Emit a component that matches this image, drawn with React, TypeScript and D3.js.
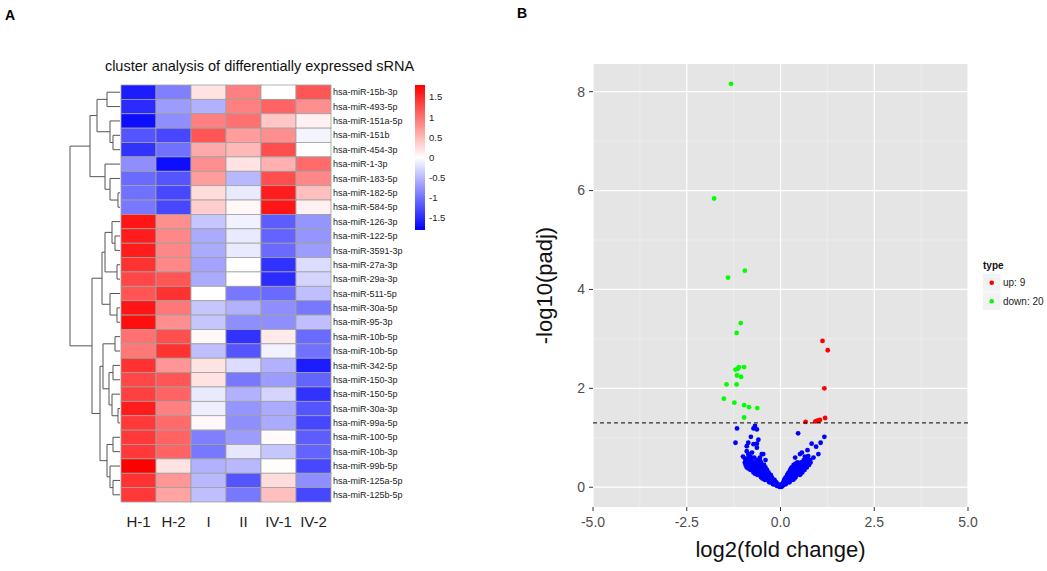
import React from "react";
import * as d3 from "d3";

// ---------- Heatmap data ----------
const columns = ["H-1", "H-2", "I", "II", "IV-1", "IV-2"];
const rowLabels = [
  "hsa-miR-15b-3p", "hsa-miR-493-5p", "hsa-miR-151a-5p", "hsa-miR-151b", "hsa-miR-454-3p",
  "hsa-miR-1-3p", "hsa-miR-183-5p", "hsa-miR-182-5p", "hsa-miR-584-5p", "hsa-miR-126-3p",
  "hsa-miR-122-5p", "hsa-miR-3591-3p", "hsa-miR-27a-3p", "hsa-miR-29a-3p", "hsa-miR-511-5p",
  "hsa-miR-30a-5p", "hsa-miR-95-3p", "hsa-miR-10b-5p", "hsa-miR-10b-5p", "hsa-miR-342-5p",
  "hsa-miR-150-3p", "hsa-miR-150-5p", "hsa-miR-30a-3p", "hsa-miR-99a-5p", "hsa-miR-100-5p",
  "hsa-miR-10b-3p", "hsa-miR-99b-5p", "hsa-miR-125a-5p", "hsa-miR-125b-5p",
];
const heatValues = [
  [-1.6, -0.9, 0.2, 0.9, 0.0, 1.2],
  [-1.5, -0.7, -0.55, 0.9, 1.1, 0.8],
  [-1.7, -0.8, 0.9, 1.0, 0.4, 0.1],
  [-1.2, -1.3, 1.2, 0.7, 0.8, -0.08],
  [-1.45, -1.0, 0.6, 0.5, 1.25, 0.0],
  [-0.8, -1.7, 0.8, 0.2, 0.55, 1.05],
  [-1.05, -1.2, 0.7, -0.5, 1.25, 0.85],
  [-1.0, -1.3, 0.25, -0.15, 1.6, 0.45],
  [-0.95, -1.3, 0.35, 0.05, 1.65, 0.1],
  [1.65, 0.8, -0.4, -0.1, -1.15, -0.75],
  [1.6, 0.85, -0.6, -0.15, -1.1, -0.75],
  [1.6, 0.85, -0.6, -0.15, -1.05, -0.7],
  [1.45, 0.85, -0.65, 0.0, -1.45, -0.25],
  [1.3, 1.2, -0.6, 0.0, -1.5, -0.3],
  [1.2, 1.45, 0.0, -0.95, -1.05, -0.45],
  [1.65, 0.95, -0.4, -0.55, -0.8, -0.95],
  [1.7, 0.8, -0.4, -0.8, -0.8, -0.45],
  [1.0, 1.25, 0.05, -1.45, 0.15, -1.05],
  [0.95, 1.45, -0.45, -1.2, -0.1, -1.0],
  [1.45, 0.75, 0.2, -0.25, -0.55, -1.6],
  [1.3, 1.2, 0.2, -0.95, -0.7, -1.1],
  [1.35, 1.1, -0.15, -0.55, -0.3, -1.45],
  [1.6, 0.9, -0.12, -0.75, -0.6, -1.2],
  [1.4, 1.05, 0.05, -0.8, -0.6, -1.3],
  [1.4, 1.1, -0.9, -0.7, 0.03, -1.15],
  [1.4, 1.1, -0.95, -0.18, -0.4, -1.1],
  [1.8, 0.2, -0.55, -0.5, 0.02, -1.3],
  [1.45, 0.75, -0.5, -1.2, 0.25, -0.8],
  [1.4, 0.65, -0.45, -0.95, 0.45, -1.3],
];
const colorbarTicks = [-1.5, -1, -0.5, 0, 0.5, 1, 1.5];

// Row dendrogram: [mergeHeight, left, right]; leaves are row indices
type TreeNode = number | [number, TreeNode, TreeNode];
const rowTree: TreeNode = [5.0,
  [3.0,
    [2.3, [1.3, 0, 1], [1.0, 2, [0.7, 3, 4]]],
    [1.5, 5, [1.0, 6, [0.2, 7, 8]]]],
  [2.8,
    [1.8,
      [1.5, [0.8, 9, [0.5, 10, 11]], [0.3, 12, 13]],
      [1.0, 14, [0.3, 15, 16]]],
    [2.0,
      [1.7, [0.5, 17, 18], [1.1, [0.7, 19, 20], [0.8, 21, [0.2, 22, 23]]]],
      [1.3, [0.7, 24, 25], [1.0, 26, [0.7, 27, 28]]]]]];

// ---------- Volcano data ----------
const xTicks = [-5, -2.5, 0, 2.5, 5];
const yTicks = [0, 2, 4, 6, 8];
const upPoints = [
  [1.12, 2.96], [1.26, 2.77], [1.17, 2.0], [0.67, 1.32], [0.93, 1.33],
  [0.97, 1.34], [1.01, 1.35], [1.05, 1.36], [1.19, 1.4],
];
const downPoints = [
  [-1.32, 8.16], [-1.77, 5.84], [-1.4, 4.24], [-0.95, 4.38], [-1.06, 3.32],
  [-1.17, 3.12], [-1.2, 2.38], [-1.11, 2.43], [-0.97, 2.43], [-1.16, 2.26],
  [-1.05, 2.23], [-1.44, 2.08], [-1.17, 2.08], [-1.51, 1.79], [-1.23, 1.71],
  [-0.97, 1.66], [-0.84, 1.62], [-0.62, 1.6], [-0.97, 1.41], [-1.13, 2.4],
];
const blueScatter = [
  [-1.16, 1.19], [-1.2, 0.9], [-0.72, 1.19], [-0.68, 1.24], [-0.63, 1.17], [-0.79, 1.02],
  [-0.86, 0.9], [-0.59, 0.96], [-0.63, 0.88], [-0.72, 0.87], [-0.9, 0.83], [-0.9, 0.73],
  [-0.86, 0.67], [-0.63, 0.8], [-0.5, 0.67], [-0.46, 0.67], [-0.86, 0.6], [-0.95, 0.58],
  [-0.8, 0.62], [-0.7, 0.6], [-0.55, 0.6], [-0.4, 0.55], [-1.0, 0.62], [-0.76, 0.7],
  [0.47, 1.09], [1.17, 1.02], [0.83, 0.88], [0.95, 0.82], [1.07, 0.9], [0.72, 0.75],
  [1.01, 0.67], [0.52, 0.67], [0.57, 0.7], [0.74, 0.63], [0.39, 0.6], [0.79, 0.55],
  [0.88, 0.6], [0.65, 0.62],
];
// dense rows of non-significant points: [y, x values]
const blueRows: [number, number[]][] = [
  [0.55, [-0.92, -0.85, -0.78, -0.62, -0.55, 0.62, 0.7, 0.78]],
  [0.5, [-0.95, -0.88, -0.8, -0.7, -0.6, -0.52, 0.45, 0.55, 0.63, 0.72, 0.8]],
  [0.475, [-0.9, -0.76, -0.64, -0.55, 0.4, 0.5, 0.58, 0.66, 0.74]],
  [0.45, [-0.93, -0.86, -0.75, -0.66, -0.58, -0.5, -0.44, 0.35, 0.44, 0.52, 0.6, 0.68, 0.76]],
  [0.4, [-0.9, -0.82, -0.72, -0.64, -0.56, -0.47, -0.4, 0.3, 0.38, 0.46, 0.54, 0.62, 0.7]],
  [0.375, [-0.85, -0.76, -0.68, -0.6, -0.51, -0.44, 0.28, 0.36, 0.44, 0.52, 0.6]],
  [0.35, [-0.8, -0.7, -0.62, -0.55, -0.48, -0.42, -0.36, 0.26, 0.33, 0.4, 0.48, 0.56, 0.64]],
  [0.3, [-0.72, -0.64, -0.56, -0.5, -0.44, -0.38, -0.32, 0.22, 0.28, 0.35, 0.42, 0.5, 0.58]],
  [0.275, [-0.68, -0.6, -0.52, -0.45, -0.39, -0.33, 0.2, 0.27, 0.33, 0.4, 0.47, 0.54]],
  [0.25, [-0.62, -0.55, -0.48, -0.42, -0.36, -0.3, -0.26, 0.18, 0.24, 0.3, 0.37, 0.44, 0.52]],
  [0.2, [-0.52, -0.45, -0.38, -0.33, -0.28, -0.23, 0.14, 0.2, 0.26, 0.32, 0.4]],
  [0.175, [-0.48, -0.41, -0.35, -0.29, -0.23, 0.12, 0.18, 0.24, 0.31, 0.37]],
  [0.15, [-0.42, -0.36, -0.3, -0.25, -0.2, -0.16, 0.1, 0.16, 0.22, 0.28, 0.34]],
  [0.1, [-0.3, -0.25, -0.2, -0.15, -0.11, 0.07, 0.12, 0.18, 0.24]],
  [0.06, [-0.2, -0.15, -0.1, -0.07, 0.04, 0.09, 0.14]],
  [0.03, [-0.1, -0.06, -0.03, 0.02, 0.06]],
  [0.01, [-0.03, 0.0, 0.03]],
];
const threshold = -Math.log10(0.05);
const legendItems = [
  { label: "up: 9", color: "#ff0000" },
  { label: "down: 20", color: "#00ff00" },
];

const FONT = "'Liberation Sans', Arial, Helvetica, sans-serif";

function Heatmap() {
  const left = 121, right = 331, top = 85, bottom = 502;
  const x = d3.scaleBand<string>().domain(columns).range([left, right]);
  const y = d3.scaleBand<number>().domain(d3.range(rowLabels.length)).range([top, bottom]);
  const color = d3.scaleLinear<string>().domain([-1.8, 0, 1.8]).range(["#0000ff", "#ffffff", "#ff0000"]);
  const dx = d3.scaleLinear().domain([0, 5]).range([120, 70]);
  const segs: { x1: number; y1: number; x2: number; y2: number }[] = [];
  const walk = (n: TreeNode): { y: number; h: number } => {
    if (typeof n === "number") return { y: (y(n) as number) + y.bandwidth() / 2, h: 0 };
    const [h, a, b] = n;
    const ca = walk(a), cb = walk(b);
    const xx = dx(h);
    segs.push({ x1: xx, y1: ca.y, x2: xx, y2: cb.y });
    segs.push({ x1: xx, y1: ca.y, x2: dx(ca.h), y2: ca.y });
    segs.push({ x1: xx, y1: cb.y, x2: dx(cb.h), y2: cb.y });
    return { y: (ca.y + cb.y) / 2, h };
  };
  walk(rowTree);
  const cb = d3.scaleLinear().domain([-1.8, 1.8]).range([230, 85]);
  const stops = d3.range(0, 1.0001, 0.05);
  return (
    <g fontFamily={FONT}>
      <text x={5} y={20} fontSize={14} fontWeight="bold">A</text>
      <text x={259.5} y={71} fontSize={14.5} textAnchor="middle" fill="#111">cluster analysis of differentially expressed sRNA</text>
      {heatValues.map((row, i) =>
        row.map((v, j) => (
          <rect key={`${i}-${j}`} x={x(columns[j])} y={y(i)} width={x.bandwidth()} height={y.bandwidth()}
            fill={color(v)} stroke="#a0a0a0" strokeWidth={0.8} />
        ))
      )}
      {segs.map((s, i) => (
        <line key={i} x1={s.x1} y1={s.y1} x2={s.x2} y2={s.y2} stroke="#555" strokeWidth={1} />
      ))}
      {rowLabels.map((l, i) => (
        <text key={i} x={333} y={(y(i) as number) + y.bandwidth() / 2} dy="0.35em" fontSize={9} fill="#222">{l}</text>
      ))}
      {columns.map((c) => (
        <text key={c} x={(x(c) as number) + x.bandwidth() / 2} y={527} fontSize={15} textAnchor="middle" fill="#222">{c}</text>
      ))}
      <defs>
        <linearGradient id="cbgrad" x1="0" y1="1" x2="0" y2="0">
          {stops.map((t) => (
            <stop key={t} offset={t} stopColor={color(-1.8 + 3.6 * t)} />
          ))}
        </linearGradient>
      </defs>
      <rect x={415} y={85} width={10} height={145} fill="url(#cbgrad)" />
      {colorbarTicks.map((t) => (
        <text key={t} x={429} y={cb(t)} dy="0.35em" fontSize={9.5} fill="#222">{t}</text>
      ))}
    </g>
  );
}

function Volcano() {
  const pl = 593, pr = 968, pt = 64, pb = 507;
  const x = d3.scaleLinear().domain([-5, 5]).range([pl, pr]);
  const y = d3.scaleLinear().domain([-0.4, 8.56]).range([pb, pt]);
  const minorX = [-3.75, -1.25, 1.25, 3.75];
  const minorY = [1, 3, 5, 7];
  const blue: number[][] = [...blueScatter];
  blueRows.forEach(([yy, xs]) => xs.forEach((xx) => blue.push([xx, yy])));
  return (
    <g fontFamily={FONT}>
      <text x={517} y={18} fontSize={14} fontWeight="bold">B</text>
      <rect x={pl} y={pt} width={pr - pl} height={pb - pt} fill="#e5e5e5" />
      {minorX.map((v) => <line key={"mx" + v} x1={x(v)} x2={x(v)} y1={pt} y2={pb} stroke="#f2f2f2" strokeWidth={0.6} />)}
      {minorY.map((v) => <line key={"my" + v} x1={pl} x2={pr} y1={y(v)} y2={y(v)} stroke="#f2f2f2" strokeWidth={0.6} />)}
      {xTicks.map((v) => <line key={"gx" + v} x1={x(v)} x2={x(v)} y1={pt} y2={pb} stroke="#fff" strokeWidth={1.2} />)}
      {yTicks.map((v) => <line key={"gy" + v} x1={pl} x2={pr} y1={y(v)} y2={y(v)} stroke="#fff" strokeWidth={1.2} />)}
      {blue.map((p, i) => <circle key={"b" + i} cx={x(p[0])} cy={y(p[1])} r={2.4} fill="#0000ff" />)}
      {downPoints.map((p, i) => <circle key={"d" + i} cx={x(p[0])} cy={y(p[1])} r={2.4} fill="#00ff00" />)}
      {upPoints.map((p, i) => <circle key={"u" + i} cx={x(p[0])} cy={y(p[1])} r={2.4} fill="#ff0000" />)}
      <line x1={pl} x2={pr} y1={y(threshold)} y2={y(threshold)} stroke="#000" strokeWidth={1} strokeDasharray="4,3" />
      {yTicks.map((v) => (
        <g key={"ty" + v}>
          <line x1={pl - 4} x2={pl} y1={y(v)} y2={y(v)} stroke="#333" strokeWidth={1} />
          <text x={pl - 8} y={y(v)} dy="0.35em" textAnchor="end" fontSize={14} fill="#4d4d4d">{v}</text>
        </g>
      ))}
      {xTicks.map((v) => (
        <g key={"tx" + v}>
          <line x1={x(v)} x2={x(v)} y1={pb} y2={pb + 4} stroke="#333" strokeWidth={1} />
          <text x={x(v)} y={527} textAnchor="middle" fontSize={14} fill="#4d4d4d">{v.toFixed(1)}</text>
        </g>
      ))}
      <text x={x(0)} y={557} textAnchor="middle" fontSize={22} fill="#111">log2(fold change)</text>
      <text transform={`translate(552,${(pt + pb) / 2}) rotate(-90)`} textAnchor="middle" fontSize={22} fill="#111">-log10(padj)</text>
      <text x={983} y={269} fontSize={10} fontWeight="bold" fill="#111">type</text>
      {legendItems.map((it, i) => (
        <g key={it.label}>
          <rect x={983} y={274 + i * 18.5} width={17.5} height={17.5} fill="#f2f2f2" />
          <circle cx={991.75} cy={282.75 + i * 18.5} r={2.3} fill={it.color} />
          <text x={1003} y={282.75 + i * 18.5} dy="0.35em" fontSize={10} fill="#222">{it.label}</text>
        </g>
      ))}
    </g>
  );
}

export default function App() {
  return (
    <svg width={1047} height={571} style={{ position: "absolute", left: 0, top: 0, background: "#fff" }}>
      <Heatmap />
      <Volcano />
    </svg>
  );
}
